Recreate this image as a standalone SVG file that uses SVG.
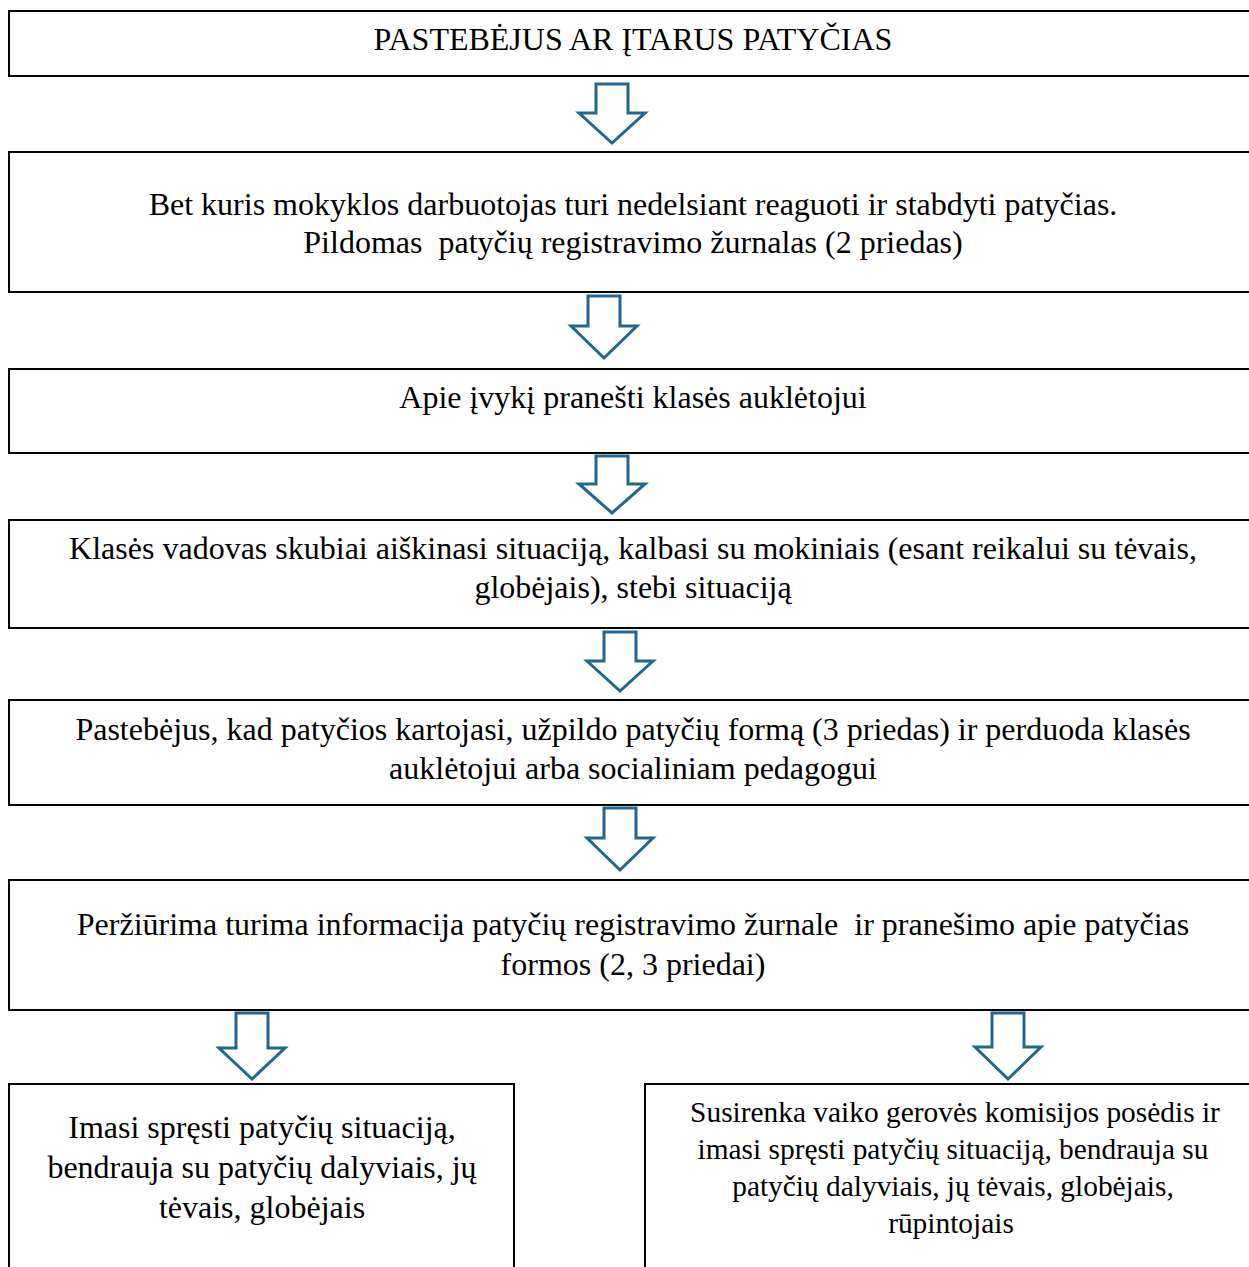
<svg xmlns="http://www.w3.org/2000/svg" width="1249" height="1267" viewBox="0 0 1249 1267">
<style>
.box{fill:#fff;stroke:#000;stroke-width:2}
.arr{fill:#fff;stroke:#22668a;stroke-width:3;stroke-linejoin:miter}
text{font-family:"Liberation Serif","Times New Roman",serif;font-size:32px;fill:#000;text-anchor:middle;white-space:pre}
.sm{font-size:29.4px}
</style>
<rect width="1249" height="1267" fill="#fff"/>
<g id="connectors">
<polygon class="arr" points="596,84 628,84 628,113 645,113 612,143 579,113 596,113"/>
<polygon class="arr" points="588,296 620,296 620,326 637,326 604,358 571,326 588,326"/>
<polygon class="arr" points="596,456 628,456 628,484 645,484 612,513 579,484 596,484"/>
<polygon class="arr" points="604,632 636,632 636,661 653,661 620,691 587,661 604,661"/>
<polygon class="arr" points="604,808 636,808 636,838 653,838 620,870 587,838 604,838"/>
<polygon class="arr" points="236,1013 268,1013 268,1048 285,1048 252,1079 219,1048 236,1048"/>
<polygon class="arr" points="992,1013 1024,1013 1024,1047 1041,1047 1008,1079 975,1047 992,1047"/>
</g>
<g id="n1"><rect class="box" x="9" y="11" width="1250" height="65"/><text x="633" y="50">PASTEBĖJUS AR ĮTARUS PATYČIAS</text></g>
<g id="n2"><rect class="box" x="9" y="152" width="1250" height="140"/><text x="633" y="215">Bet kuris mokyklos darbuotojas turi nedelsiant reaguoti ir stabdyti patyčias.</text><text x="633" y="253">Pildomas  patyčių registravimo žurnalas (2 priedas)</text></g>
<g id="n3"><rect class="box" x="9" y="369" width="1250" height="84"/><text x="633" y="408">Apie įvykį pranešti klasės auklėtojui</text></g>
<g id="n4"><rect class="box" x="9" y="520" width="1250" height="108"/><text x="633" y="559">Klasės vadovas skubiai aiškinasi situaciją, kalbasi su mokiniais (esant reikalui su tėvais,</text><text x="633" y="598">globėjais), stebi situaciją</text></g>
<g id="n5"><rect class="box" x="9" y="700" width="1250" height="105"/><text x="633" y="740">Pastebėjus, kad patyčios kartojasi, užpildo patyčių formą (3 priedas) ir perduoda klasės</text><text x="633" y="779">auklėtojui arba socialiniam pedagogui</text></g>
<g id="n6"><rect class="box" x="9" y="880" width="1250" height="130"/><text x="633" y="935">Peržiūrima turima informacija patyčių registravimo žurnale  ir pranešimo apie patyčias</text><text x="633" y="975">formos (2, 3 priedai)</text></g>
<g id="n7"><rect class="box" x="9" y="1084" width="505" height="200"/><text x="262" y="1138">Imasi spręsti patyčių situaciją,</text><text x="262" y="1178">bendrauja su patyčių dalyviais, jų</text><text x="262" y="1218">tėvais, globėjais</text></g>
<g id="n8"><rect class="box" x="645" y="1084" width="620" height="200"/><text class="sm" x="955" y="1122">Susirenka vaiko gerovės komisijos posėdis ir</text><text class="sm" x="953" y="1159">imasi spręsti patyčių situaciją, bendrauja su</text><text class="sm" x="953" y="1196">patyčių dalyviais, jų tėvais, globėjais,</text><text class="sm" x="951" y="1233">rūpintojais</text></g>
</svg>
